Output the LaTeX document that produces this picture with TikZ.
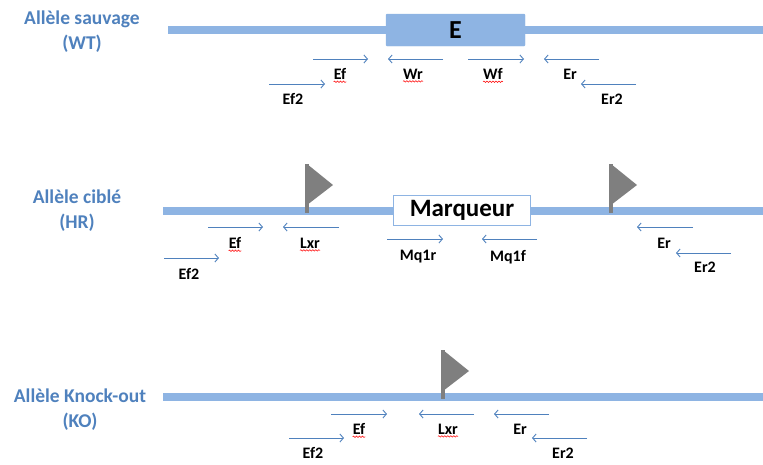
\documentclass[tikz,border=0pt]{standalone}
\usepackage{fontspec}
\setmainfont{Carlito}
\usetikzlibrary{arrows.meta,decorations.pathmorphing}
\definecolor{dna}{RGB}{142,180,227}
\definecolor{prim}{RGB}{79,129,189}
\definecolor{flaggrey}{RGB}{127,127,127}
\newcommand\primerarrow[7]{%
  \coordinate (#1s) at (#2,#4);
  \coordinate (#1e) at (#3,#4);
  \draw[primer] (#1s) -- (#1e);
  \node[plabel] (#1l) at (#6,#7) {#5};}
\newcommand\squiggle[1]{%
  \draw[squig] ([yshift=-2.2pt]#1.base west) -- ([yshift=-2.2pt]#1.base east);}
\newcommand\loxflag[3]{% name, x, ybase
  \coordinate (#1b) at (#2,#3);
  \coordinate (#1t) at (#2,#3-49);
  \coordinate (#1p) at (#2+26,#3-28);
  \coordinate (#1m) at (#2,#3-8);
  \fill[flaggrey] (#1t) -- (#1p) -- (#1m) -- cycle;
  \draw[flaggrey, line width=3.5pt] (#1t) -- (#1b);}
\begin{document}
\begin{tikzpicture}[x=1pt,y=-1pt,
  dnaline/.style={draw=dna, line width=7.5pt},
  primer/.style={draw=prim, line width=0.9pt, -{Straight Barb[length=3.5pt,width=8pt]}},
  plabel/.style={font=\bfseries\fontsize{16}{18}\selectfont, text=black, inner sep=0pt},
  allele/.style={font=\bfseries\fontsize{19.5}{25}\selectfont, text=prim, align=center, inner sep=0pt},
  squig/.style={draw=red, line width=0.5pt, decorate, decoration={snake, amplitude=0.7pt, segment length=3pt}}]
\useasboundingbox (0,0) rectangle (763,464);

% ---------- WT ----------
\node[allele] (wtlab) at (82,32) {Allèle sauvage\\(WT)};
\coordinate (wtL) at (168,30);
\coordinate (wtR) at (763,30);
\draw[dnaline] (wtL) -- (wtR);
\node[fill=dna, draw=dna, minimum width=139pt, minimum height=32pt, rounded corners=1pt,
      font=\bfseries\fontsize{26}{28}\selectfont] (exon) at (455.5,30) {E};

\primerarrow{aEf}{313}{368}{59}{Ef}{340}{74}
\primerarrow{aEfd}{269}{325}{84}{Ef2}{293}{99}
\primerarrow{aWr}{443}{388}{59}{Wr}{413}{74}
\primerarrow{aWf}{468}{524}{59}{Wf}{493}{74}
\primerarrow{aEr}{599}{544}{59}{Er}{570}{74}
\primerarrow{aErd}{636}{581}{84}{Er2}{612}{99}
\squiggle{aEfl}
\squiggle{aWrl}
\squiggle{aWfl}

% ---------- HR ----------
\node[allele] (hrlab) at (77,211) {Allèle ciblé\\(HR)};
\coordinate (hrL) at (163,211);
\coordinate (hrR) at (763,211);
\draw[dnaline] (hrL) -- (hrR);
\loxflag{fa}{307}{213}
\loxflag{fb}{611}{213}
\node[fill=white, draw=dna, line width=1.5pt, minimum width=137pt, minimum height=30pt,
      font=\bfseries\fontsize{25}{27}\selectfont, inner sep=0pt] (marq) at (462,210.5) {Marqueur};

\primerarrow{bEf}{208}{263}{227}{Ef}{235}{243}
\primerarrow{bLxr}{339}{283}{227}{Lxr}{310}{243}
\primerarrow{bEfd}{164}{219}{258}{Ef2}{189}{274}
\primerarrow{bMr}{387}{443}{239}{Mq1r}{418}{257}
\primerarrow{bMf}{537}{482}{239}{Mq1f}{508}{257}
\primerarrow{bEr}{693}{637}{227}{Er}{664}{243}
\primerarrow{bErd}{731}{676}{253}{Er2}{705}{267}
\squiggle{bEfl}
\squiggle{bLxrl}

% ---------- KO ----------
\node[allele] (kolab) at (80,409.5) {Allèle Knock-out\\(KO)};
\coordinate (koL) at (163,397);
\coordinate (koR) at (763,397);
\draw[dnaline] (koL) -- (koR);
\loxflag{fc}{443}{399}

\primerarrow{cEf}{331}{387}{414}{Ef}{359}{429}
\primerarrow{cEfd}{289}{344}{438}{Ef2}{313}{453}
\primerarrow{cLxr}{474}{419}{414}{Lxr}{448}{429}
\primerarrow{cEr}{549}{494}{414}{Er}{520}{429}
\primerarrow{cErd}{587}{532}{438}{Er2}{563}{453}
\squiggle{cEfl}
\squiggle{cLxrl}
\end{tikzpicture}
\end{document}
